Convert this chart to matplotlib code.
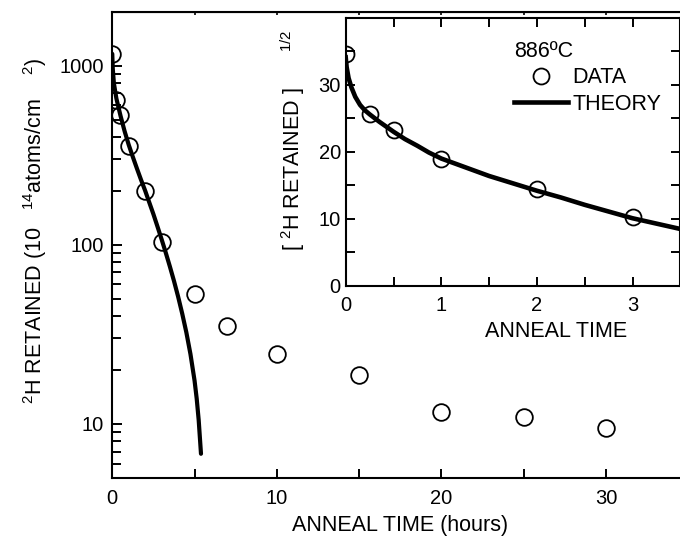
import matplotlib
matplotlib.use("Agg")
import matplotlib.pyplot as plt
from matplotlib.lines import Line2D
from matplotlib.ticker import LogLocator, NullFormatter, FixedLocator, FixedFormatter

plt.rcParams['font.family'] = ['Liberation Sans', 'DejaVu Sans']
plt.rcParams['mathtext.fontset'] = 'custom'
plt.rcParams['mathtext.rm'] = 'Liberation Sans'
plt.rcParams['mathtext.default'] = 'regular'

# main panel: anneal time (hours) vs 2H retained (1e14 atoms/cm2)
hours = [0, 0.25, 0.5, 1, 2, 3, 5, 7, 10, 15, 20, 25, 30]
retained = [1166, 646, 527, 354, 200, 104, 53, 35.3, 24.5, 18.8, 11.7, 10.9, 9.5]
theory_t = [0, 0.03, 0.1, 0.25, 0.5, 0.75, 1.0, 1.25, 1.5, 1.75, 2.0, 2.25, 2.5,
            2.75, 3.0, 3.25, 3.5, 3.75, 4.0, 4.25, 4.5, 4.75, 5.0, 5.13, 5.25, 5.39]
theory_v = [1163, 961, 795, 655, 525, 430, 361, 309, 266, 230, 200, 172, 148,
            126, 107, 90.2, 75.5, 62.7, 51.3, 41.2, 32.4, 24.5, 17.4, 13.8, 10.5, 6.8]

# inset: sqrt of retained
inset_t = [0, 0.25, 0.5, 1, 2, 3]
inset_v = [34.6, 25.7, 23.25, 19.0, 14.4, 10.3]
fit_t = [0, 0.01, 0.03, 0.06, 0.1, 0.15, 0.2, 0.25, 0.35, 0.5, 0.62, 0.75, 0.87, 1.0,
         1.25, 1.5, 1.75, 2.0, 2.25, 2.5, 2.75, 3.0, 3.25, 3.5]
fit_v = [34.1, 32.6, 31.0, 29.6, 28.2, 27.0, 26.2, 25.6, 24.5, 23.0, 21.9, 20.9, 19.9, 19.0,
         17.7, 16.4, 15.3, 14.2, 13.2, 12.1, 11.1, 10.1, 9.3, 8.5]

TICK_FS = 14.5
LAB_FS = 15.5

fig = plt.figure(figsize=(6.8, 5.46), dpi=100)
ax = fig.add_axes([0.1651, 0.1251, 0.8472, 0.8535])

ax.plot(theory_t, theory_v, color='black', lw=3.0, solid_capstyle='round',
        solid_joinstyle='round', zorder=2)
ax.plot(hours, retained, 'o', ms=12, mfc='none', mec='black', mew=1.3, zorder=3)
ax.set_yscale('log')
ax.set_xlim(0, 35)
ax.set_ylim(5, 2000)
ax.xaxis.set_major_locator(FixedLocator([0, 10, 20, 30]))
ax.xaxis.set_minor_locator(FixedLocator([5, 15, 25]))
ax.yaxis.set_major_locator(FixedLocator([10, 100, 1000]))
ax.yaxis.set_major_formatter(FixedFormatter(['10', '100', '1000']))
ax.yaxis.set_minor_locator(LogLocator(base=10, subs=range(2, 10)))
ax.yaxis.set_minor_formatter(NullFormatter())
ax.tick_params(which='both', direction='in', width=1.4, labelsize=TICK_FS, right=False)
ax.tick_params(axis='y', which='major', length=7, pad=6)
ax.tick_params(axis='y', which='minor', length=6.5)
ax.tick_params(axis='x', which='both', length=6.7, pad=8, top=False)
ax.secondary_xaxis('top').tick_params(which='both', direction='in', length=2, width=1.2,
                                      labeltop=False)
for s in ['left', 'bottom', 'top']:
    ax.spines[s].set_linewidth(1.5)
ax.spines['right'].set_visible(False)
ax.set_xlabel('ANNEAL TIME (hours)', fontsize=LAB_FS, labelpad=5)
ax.set_ylabel(r'$^{2}$H RETAINED (10   $^{14}$atoms/cm    $^{2}$)', fontsize=LAB_FS)
ax.yaxis.set_label_coords(-0.109, 0.529)

# inset
ins = fig.add_axes([0.5084, 0.4762, 0.4921, 0.4914])
ins.set_facecolor('white')
ins.plot(fit_t, fit_v, color='black', lw=3.3, solid_joinstyle='round', zorder=2)
ins.plot(inset_t, inset_v, 'o', ms=11.5, mfc='none', mec='black', mew=1.3, zorder=3)
ins.set_xlim(0, 3.5)
ins.set_ylim(0, 40)
ins.xaxis.set_major_locator(FixedLocator([0, 1, 2, 3]))
ins.xaxis.set_minor_locator(FixedLocator([0.5, 1.5, 2.5, 3.5]))
ins.yaxis.set_major_locator(FixedLocator([0, 10, 20, 30]))
ins.yaxis.set_minor_locator(FixedLocator([5, 15, 25, 35]))
ins.tick_params(which='both', direction='in', width=1.4, length=6.5, labelsize=TICK_FS,
                top=True, right=True)
ins.tick_params(axis='x', pad=7)
for s in ins.spines.values():
    s.set_linewidth(1.5)
ins.set_xlabel('ANNEAL TIME', fontsize=LAB_FS)
ins.xaxis.set_label_coords(0.629, -0.13)
ins.set_ylabel(r'[ $^{2}$H RETAINED ]      $^{1/2}$', fontsize=LAB_FS)
ins.yaxis.set_label_coords(-0.116, 0.544)

handles = [Line2D([], [], ls='none', marker='o', ms=11.5, mfc='none', mec='black', mew=1.3),
           Line2D([], [], color='black', lw=3.3)]
leg = ins.legend(handles, ['DATA', 'THEORY'], title='886ºC', title_fontsize=LAB_FS,
                 fontsize=LAB_FS, frameon=False, loc='upper left',
                 bbox_to_anchor=(514 / 680, 1 - 41 / 546), bbox_transform=fig.transFigure,
                 borderpad=0, borderaxespad=0, handlelength=2.5, handletextpad=0.2,
                 labelspacing=0.25, alignment='left')

fig.savefig('out.png', dpi=100)
